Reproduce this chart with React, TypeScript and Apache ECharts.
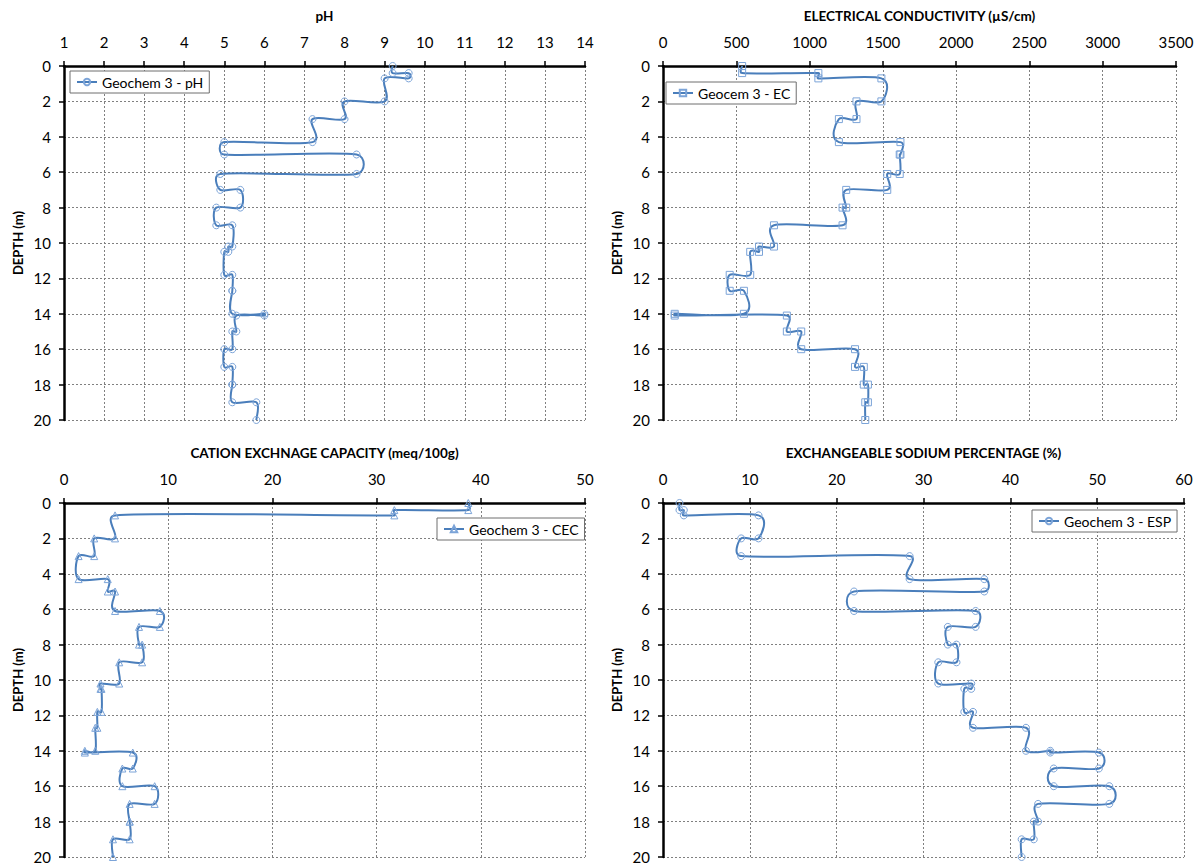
import React, { useEffect, useRef } from "react";
import * as echarts from "echarts";

// Layer boundaries (m) — each layer gives a top and a bottom point
const LAYER_TOP = [0, 0.4, 0.7, 2, 3, 4.3, 5, 6.1, 7, 8, 9, 10.2, 10.5, 11.8, 12.7, 14, 14.1, 15, 16, 17, 18, 19];
const LAYER_BOTTOM = [0.4, 0.7, 2, 3, 4.3, 5, 6.1, 7, 8, 9, 10.2, 10.5, 11.8, 12.7, 14, 14.1, 15, 16, 17, 18, 19, 20];

const PH_VALUES = [9.2, 9.6, 9.0, 8.0, 7.2, 5.0, 8.3, 4.9, 5.4, 4.8, 5.2, 5.1, 5.0, 5.2, 5.2, 6.0, 5.3, 5.2, 5.0, 5.2, 5.2, 5.8];
const EC_VALUES = [540, 1060, 1490, 1320, 1200, 1620, 1615, 1530, 1250, 1225, 757, 655, 595, 455, 552, 80, 845, 943, 1310, 1370, 1398, 1380];
const CEC_VALUES = [38.8, 31.7, 4.9, 2.9, 1.4, 4.2, 4.9, 9.2, 7.2, 7.5, 5.3, 3.5, 3.6, 3.2, 3.0, 2.0, 6.6, 5.6, 8.7, 6.3, 6.3, 4.7];
const ESP_VALUES = [1.9, 2.4, 11.0, 9.0, 28.4, 37.0, 22.0, 36.0, 32.8, 33.8, 31.7, 35.5, 34.7, 35.7, 41.8, 44.6, 50.2, 45.0, 51.4, 43.2, 42.7, 41.3];

const TITLES = [
  "pH",
  "ELECTRICAL CONDUCTIVITY (µS/cm)",
  "CATION EXCHNAGE CAPACITY (meq/100g)",
  "EXCHANGEABLE SODIUM PERCENTAGE (%)",
];
const SERIES_NAMES = ["Geochem 3 - pH", "Geocem 3 - EC", "Geochem 3 - CEC", "Geochem 3 - ESP"];
const X_MIN = [1, 0, 0, 0];
const X_MAX = [14, 3500, 50, 60];
const X_INTERVAL = [1, 500, 10, 10];
const SYMBOLS = ["circle", "rect", "triangle", "circle"];
const DEPTH_MIN = 0;
const DEPTH_MAX = 20;
const DEPTH_INTERVAL = 2;

function buildPoints(values: number[]) {
  const pts: number[][] = [];
  values.forEach((v, i) => {
    pts.push([v, LAYER_TOP[i]]);
    pts.push([v, LAYER_BOTTOM[i]]);
  });
  return pts;
}

const FONT = "Lato";
const LINE_COLOR = "#4a7ebb";
const MARKER_COLOR = "#7ca4d8";

// Catmull-Rom style bezier (tangent / 6), control arm limited to half the segment length
function smoothPath(pts: number[][]) {
  const n = pts.length;
  const dist = (a: number[], b: number[]) => Math.hypot(a[0] - b[0], a[1] - b[1]);
  const tangent = (i: number) => {
    const a = pts[Math.max(i - 1, 0)];
    const b = pts[Math.min(i + 1, n - 1)];
    return [(b[0] - a[0]) / 6, (b[1] - a[1]) / 6];
  };
  const clip = (v: number[], maxLen: number) => {
    const l = Math.hypot(v[0], v[1]);
    if (l <= maxLen || l === 0) return v;
    return [(v[0] * maxLen) / l, (v[1] * maxLen) / l];
  };
  let d = `M${pts[0][0]},${pts[0][1]}`;
  for (let i = 0; i < n - 1; i++) {
    const p1 = pts[i];
    const p2 = pts[i + 1];
    const d12 = dist(p1, p2);
    const t1 = clip(tangent(i), 0.5 * d12);
    const t2 = clip(tangent(i + 1), 0.5 * d12);
    d += ` C${p1[0] + t1[0]},${p1[1] + t1[1]} ${p2[0] - t2[0]},${p2[1] - t2[1]} ${p2[0]},${p2[1]}`;
  }
  return d;
}

export default function App() {
  const ref = useRef<HTMLDivElement>(null);
  useEffect(() => {
    document.body.style.margin = "0";
    const chart = echarts.init(ref.current!, null, { renderer: "svg" });
    const grids = [
      { left: 64, top: 66, width: 521, height: 354 },
      { left: 663, top: 66, width: 513, height: 354 },
      { left: 64, top: 503, width: 521, height: 354 },
      { left: 663, top: 503, width: 521, height: 354 },
    ];
    const legendPos = [
      { left: 70, top: 71 },
      { left: 666, top: 82 },
      { left: 437, top: 518 },
      { left: 1032, top: 510 },
    ];
    const allValues = [PH_VALUES, EC_VALUES, CEC_VALUES, ESP_VALUES];
    const gridLine = { show: true, lineStyle: { color: "#808080", width: 1, type: [2, 2] as any } };

    const curveSeries = grids.map((_, i) => {
      const data = buildPoints(allValues[i]);
      return {
        type: "custom",
        name: "curve-" + i,
        xAxisIndex: i,
        yAxisIndex: i,
        data,
        clip: false,
        silent: true,
        z: 2,
        renderItem: (params: any, api: any) => {
          if (params.dataIndex !== 0) return { type: "group", children: [] };
          const pts = data.map((p) => api.coord(p));
          return {
            type: "path",
            shape: { pathData: smoothPath(pts) },
            style: { fill: "none", stroke: LINE_COLOR, lineWidth: 2 },
          };
        },
      };
    });

    const markerSeries = grids.map((_, i) => ({
      type: "line",
      name: SERIES_NAMES[i],
      xAxisIndex: i,
      yAxisIndex: i,
      data: buildPoints(allValues[i]),
      clip: false,
      symbol: SYMBOLS[i],
      symbolSize: 7,
      showSymbol: true,
      lineStyle: { color: LINE_COLOR, width: 2, opacity: 0 },
      itemStyle: { color: "rgba(255,255,255,0)", borderColor: MARKER_COLOR, borderWidth: 1 },
      emphasis: { disabled: true },
      z: 3,
    }));

    const option: any = {
      animation: false,
      backgroundColor: "#ffffff",
      textStyle: { fontFamily: FONT },
      grid: grids.map((g) => ({ ...g, containLabel: false })),
      xAxis: grids.map((_, i) => ({
        type: "value",
        gridIndex: i,
        position: "top",
        min: X_MIN[i],
        max: X_MAX[i],
        interval: X_INTERVAL[i],
        axisLine: { show: true, onZero: false, lineStyle: { color: "#000", width: 2.5 } },
        axisTick: { show: true, inside: false, length: 5, lineStyle: { color: "#000", width: 1.5 } },
        axisLabel: { color: "#000", fontSize: 15, fontFamily: FONT, margin: 17, formatter: (v: number) => String(v) },
        splitLine: gridLine,
      })),
      yAxis: grids.map((_, i) => ({
        type: "value",
        gridIndex: i,
        inverse: true,
        min: DEPTH_MIN,
        max: DEPTH_MAX,
        interval: DEPTH_INTERVAL,
        name: "DEPTH (m)",
        nameLocation: "middle",
        nameRotate: 90,
        nameGap: 40,
        nameTextStyle: { color: "#000", fontSize: 13, fontWeight: "bold", fontFamily: FONT },
        axisLine: { show: true, onZero: false, lineStyle: { color: "#000", width: 2.5 } },
        axisTick: { show: true, inside: false, length: 5, lineStyle: { color: "#000", width: 1.5 } },
        axisLabel: { color: "#000", fontSize: 15, fontFamily: FONT, margin: 13, formatter: (v: number) => String(v) },
        splitLine: gridLine,
      })),
      legend: grids.map((_, i) => ({
        data: [SERIES_NAMES[i]],
        left: legendPos[i].left,
        top: legendPos[i].top,
        orient: "horizontal",
        borderColor: "#6e6e6e",
        borderWidth: 1,
        borderRadius: 0,
        padding: [4, 6, 4, 6],
        itemWidth: 20,
        itemHeight: 8,
        itemGap: 0,
        backgroundColor: "#fff",
        lineStyle: { color: LINE_COLOR, width: 2, opacity: 1 },
        textStyle: { color: "#000", fontSize: 14, fontFamily: FONT },
        selectedMode: false,
      })),
      graphic: grids.map((g, i) => ({
        type: "text",
        x: g.left + g.width / 2,
        y: i < 2 ? 16 : 453,
        style: {
          text: TITLES[i],
          align: "center",
          verticalAlign: "middle",
          fontSize: 13.5,
          fontWeight: "bold",
          fontFamily: FONT,
          fill: "#000",
        },
      })),
      series: [...curveSeries, ...markerSeries],
    };
    chart.setOption(option);
    return () => chart.dispose();
  }, []);
  return <div ref={ref} style={{ width: 1204, height: 866 }} />;
}
